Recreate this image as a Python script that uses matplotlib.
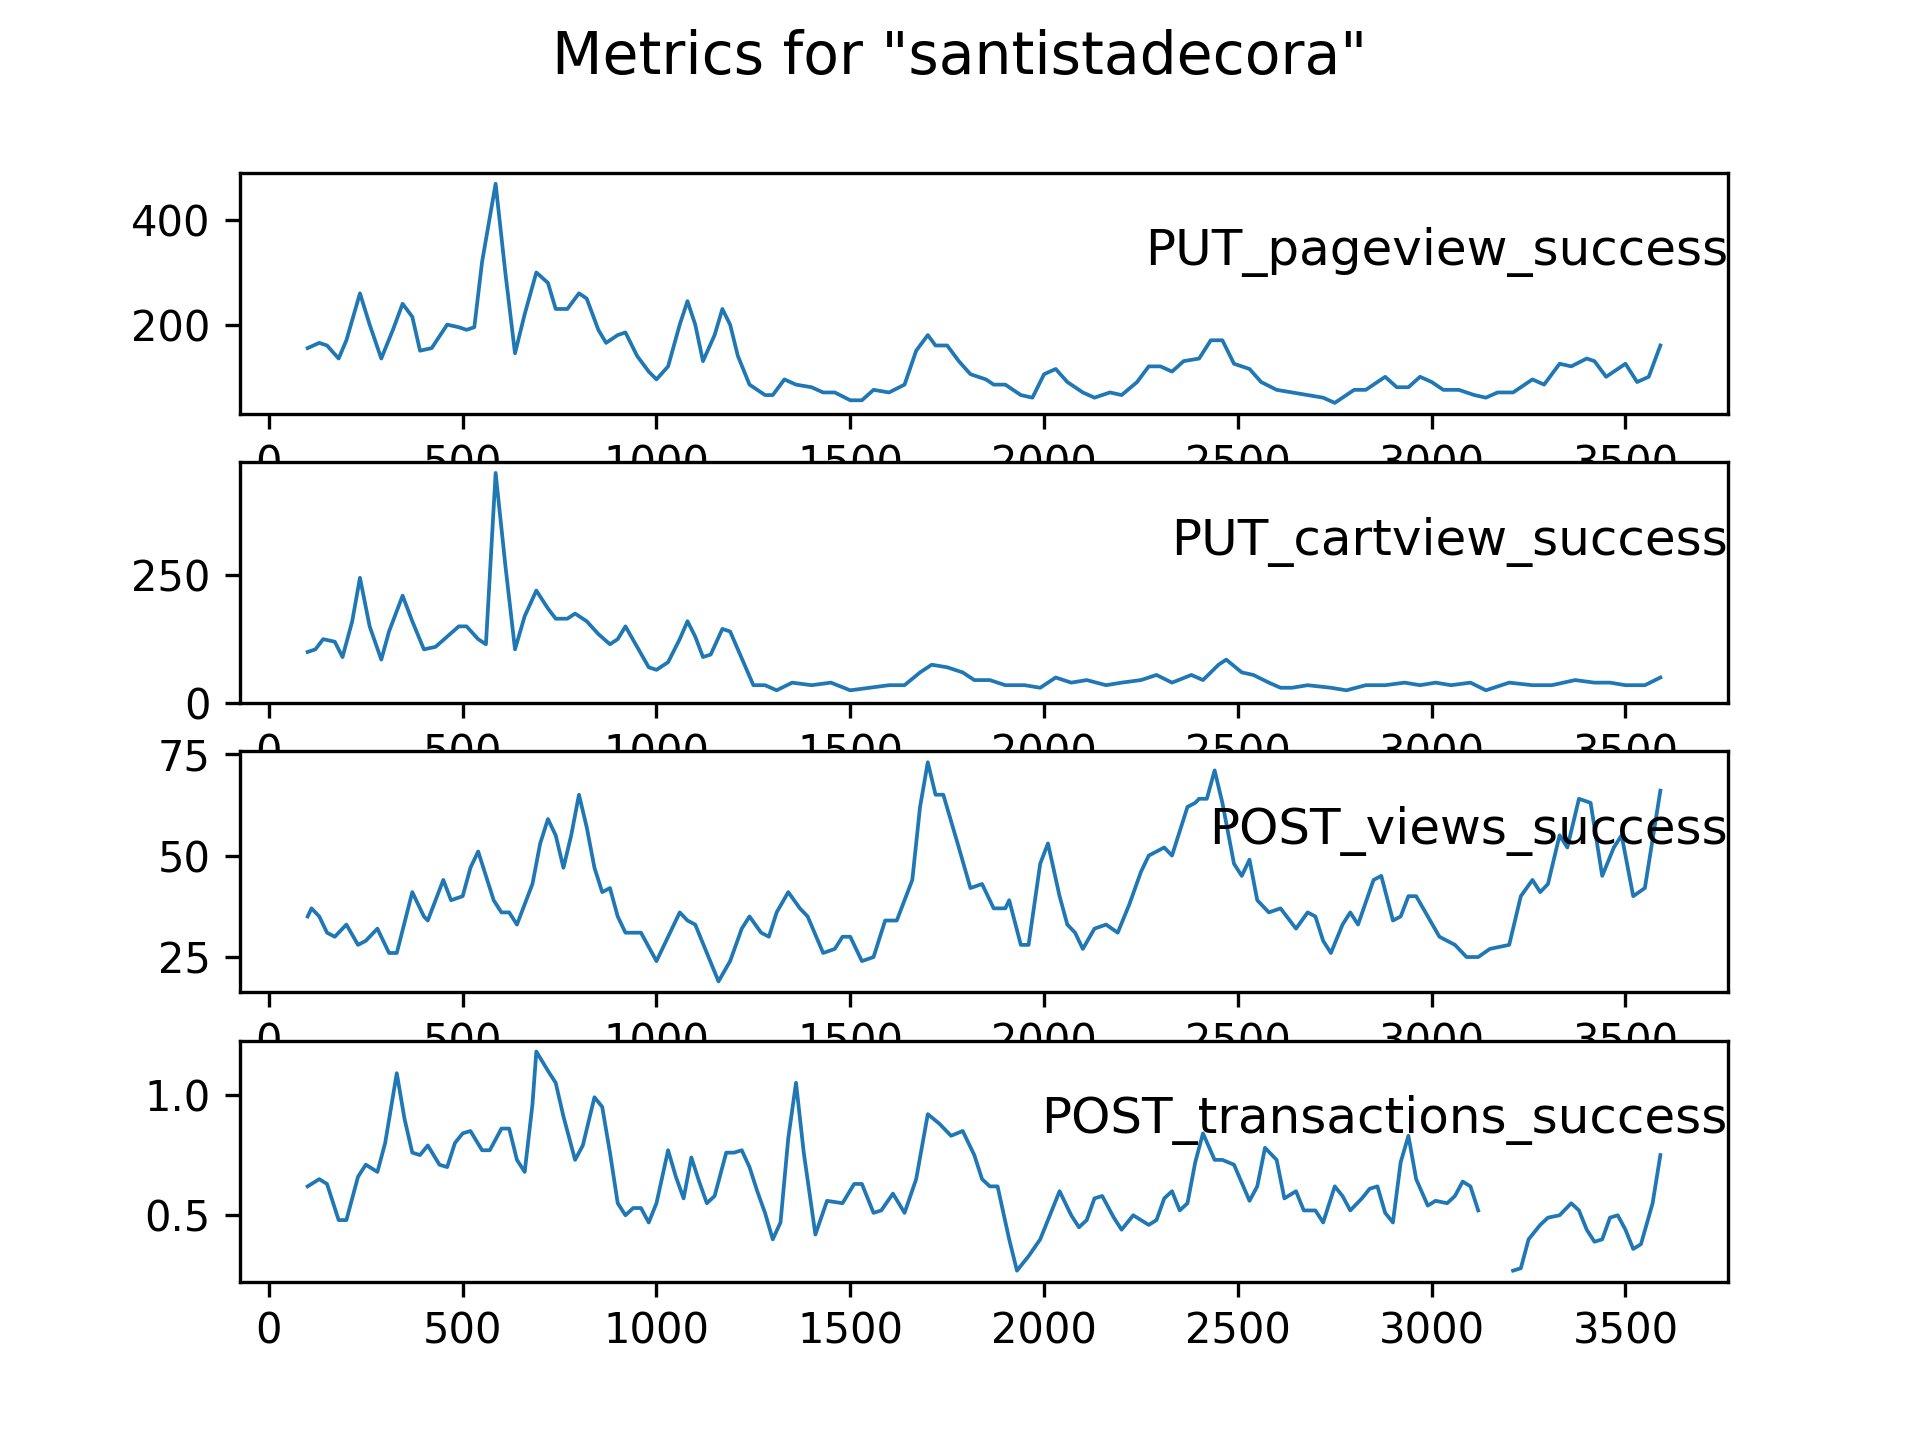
import matplotlib
matplotlib.use("Agg")
import matplotlib.pyplot as plt
import numpy as np

# ------------------------------------------------------------
# Data
# ------------------------------------------------------------

pageview_x = [100, 130, 150, 180, 200, 235, 260, 290, 320, 345, 370, 390, 420, 460, 490, 510, 530, 550, 585, 610, 635, 660, 690, 720, 740, 770, 800, 820, 850, 870, 900, 920, 950, 980, 1000, 1030, 1060, 1080, 1100, 1120, 1150, 1170, 1190, 1210, 1240, 1280, 1300, 1330, 1360, 1400, 1430, 1460, 1500, 1530, 1560, 1600, 1640, 1670, 1700, 1720, 1750, 1780, 1810, 1850, 1870, 1900, 1940, 1970, 2000, 2030, 2060, 2100, 2130, 2170, 2200, 2240, 2270, 2300, 2330, 2360, 2400, 2430, 2460, 2490, 2530, 2560, 2600, 2640, 2680, 2720, 2750, 2800, 2830, 2880, 2910, 2940, 2970, 3000, 3030, 3070, 3110, 3140, 3170, 3210, 3260, 3290, 3330, 3360, 3400, 3420, 3450, 3500, 3530, 3560, 3590]
pageview_y = [155, 165, 160, 135, 170, 260, 200, 135, 190, 240, 215, 150, 155, 200, 195, 190, 195, 320, 470, 300, 145, 220, 300, 280, 230, 230, 260, 250, 190, 165, 180, 185, 140, 110, 95, 120, 200, 245, 200, 130, 180, 230, 200, 140, 85, 65, 65, 95, 85, 80, 70, 70, 55, 55, 75, 70, 85, 150, 180, 160, 160, 130, 105, 95, 85, 85, 65, 60, 105, 115, 90, 70, 60, 70, 65, 90, 120, 120, 110, 130, 135, 170, 170, 125, 115, 90, 75, 70, 65, 60, 50, 75, 75, 100, 80, 80, 100, 90, 75, 75, 65, 60, 70, 70, 95, 85, 125, 120, 135, 130, 100, 125, 90, 100, 160]

cartview_x = [100, 120, 140, 170, 190, 215, 235, 260, 290, 310, 345, 370, 400, 430, 460, 490, 510, 540, 560, 585, 610, 635, 660, 690, 720, 740, 770, 790, 820, 850, 880, 900, 920, 950, 980, 1000, 1030, 1060, 1080, 1100, 1120, 1140, 1170, 1190, 1230, 1250, 1280, 1310, 1350, 1400, 1450, 1500, 1550, 1600, 1640, 1680, 1710, 1750, 1790, 1820, 1860, 1900, 1950, 1990, 2030, 2070, 2110, 2160, 2200, 2250, 2290, 2330, 2380, 2410, 2450, 2470, 2510, 2540, 2580, 2610, 2640, 2680, 2740, 2780, 2830, 2880, 2930, 2970, 3010, 3050, 3100, 3140, 3200, 3260, 3310, 3370, 3420, 3460, 3500, 3550, 3590]
cartview_y = [100, 105, 125, 120, 90, 160, 245, 150, 85, 140, 210, 160, 105, 110, 130, 150, 150, 125, 115, 450, 270, 105, 170, 220, 185, 165, 165, 175, 160, 135, 115, 125, 150, 110, 70, 65, 80, 125, 160, 130, 90, 95, 145, 140, 70, 35, 35, 25, 40, 35, 40, 25, 30, 35, 35, 60, 75, 70, 60, 45, 45, 35, 35, 30, 50, 40, 45, 35, 40, 45, 55, 40, 55, 45, 75, 85, 60, 55, 40, 30, 30, 35, 30, 25, 35, 35, 40, 35, 40, 35, 40, 25, 40, 35, 35, 45, 40, 40, 35, 35, 50]

views_x = [100, 110, 130, 150, 170, 200, 230, 250, 280, 310, 330, 370, 400, 410, 450, 470, 500, 520, 540, 560, 580, 600, 620, 640, 680, 700, 720, 740, 760, 780, 800, 820, 840, 860, 880, 900, 920, 960, 1000, 1040, 1060, 1080, 1100, 1130, 1160, 1190, 1220, 1240, 1270, 1290, 1310, 1340, 1370, 1390, 1430, 1460, 1480, 1500, 1530, 1560, 1590, 1620, 1660, 1680, 1700, 1720, 1740, 1780, 1810, 1840, 1870, 1900, 1910, 1940, 1960, 1990, 2010, 2040, 2060, 2080, 2100, 2130, 2160, 2190, 2220, 2250, 2270, 2290, 2310, 2330, 2350, 2370, 2390, 2400, 2420, 2440, 2460, 2490, 2510, 2530, 2550, 2580, 2610, 2650, 2680, 2700, 2720, 2740, 2770, 2790, 2810, 2850, 2870, 2900, 2920, 2940, 2960, 2990, 3020, 3060, 3090, 3120, 3150, 3200, 3230, 3260, 3280, 3300, 3330, 3350, 3380, 3410, 3440, 3470, 3490, 3520, 3550, 3590]
views_y = [35, 37, 35, 31, 30, 33, 28, 29, 32, 26, 26, 41, 35, 34, 44, 39, 40, 47, 51, 45, 39, 36, 36, 33, 43, 53, 59, 55, 47, 55, 65, 57, 47, 41, 42, 35, 31, 31, 24, 32, 36, 34, 33, 26, 19, 24, 32, 35, 31, 30, 36, 41, 37, 35, 26, 27, 30, 30, 24, 25, 34, 34, 44, 62, 73, 65, 65, 52, 42, 43, 37, 37, 39, 28, 28, 48, 53, 40, 33, 31, 27, 32, 33, 31, 38, 46, 50, 51, 52, 50, 56, 62, 63, 64, 64, 71, 63, 48, 45, 49, 39, 36, 37, 32, 36, 35, 29, 26, 33, 36, 33, 44, 45, 34, 35, 40, 40, 35, 30, 28, 25, 25, 27, 28, 40, 44, 41, 43, 55, 52, 64, 63, 45, 52, 55, 40, 42, 66]

transactions_x = [100, 130, 150, 180, 200, 230, 250, 280, 300, 330, 350, 370, 390, 410, 440, 460, 480, 500, 520, 550, 570, 600, 620, 640, 660, 680, 690, 720, 740, 760, 790, 810, 840, 860, 880, 900, 920, 940, 960, 980, 1000, 1030, 1050, 1070, 1090, 1110, 1130, 1150, 1180, 1200, 1220, 1240, 1260, 1280, 1300, 1320, 1340, 1360, 1380, 1410, 1440, 1480, 1510, 1530, 1560, 1580, 1610, 1640, 1670, 1700, 1730, 1760, 1790, 1820, 1840, 1860, 1880, 1910, 1930, 1960, 1990, 2010, 2040, 2070, 2090, 2110, 2130, 2150, 2180, 2200, 2230, 2270, 2290, 2310, 2330, 2350, 2370, 2390, 2410, 2440, 2460, 2490, 2530, 2550, 2570, 2600, 2620, 2650, 2670, 2700, 2720, 2750, 2770, 2790, 2820, 2840, 2860, 2880, 2900, 2920, 2940, 2960, 2990, 3010, 3040, 3060, 3080, 3100, 3120, 3165, 3210, 3230, 3250, 3280, 3300, 3330, 3360, 3380, 3400, 3420, 3440, 3460, 3480, 3500, 3520, 3540, 3570, 3590]
transactions_y = [0.62, 0.65, 0.63, 0.48, 0.48, 0.66, 0.71, 0.68, 0.80, 1.09, 0.90, 0.76, 0.75, 0.79, 0.71, 0.70, 0.80, 0.84, 0.85, 0.77, 0.77, 0.86, 0.86, 0.73, 0.68, 0.96, 1.18, 1.10, 1.05, 0.91, 0.73, 0.79, 0.99, 0.95, 0.76, 0.55, 0.50, 0.53, 0.53, 0.47, 0.55, 0.77, 0.66, 0.57, 0.74, 0.64, 0.55, 0.58, 0.76, 0.76, 0.77, 0.70, 0.60, 0.51, 0.40, 0.47, 0.82, 1.05, 0.76, 0.42, 0.56, 0.55, 0.63, 0.63, 0.51, 0.52, 0.59, 0.51, 0.65, 0.92, 0.88, 0.83, 0.85, 0.75, 0.65, 0.62, 0.62, 0.40, 0.27, 0.33, 0.40, 0.48, 0.60, 0.50, 0.45, 0.48, 0.57, 0.58, 0.49, 0.44, 0.50, 0.46, 0.48, 0.57, 0.60, 0.52, 0.55, 0.72, 0.84, 0.73, 0.73, 0.71, 0.56, 0.62, 0.78, 0.73, 0.57, 0.60, 0.52, 0.52, 0.47, 0.62, 0.58, 0.52, 0.57, 0.61, 0.62, 0.51, 0.47, 0.72, 0.83, 0.65, 0.54, 0.56, 0.55, 0.58, 0.64, 0.62, 0.52, np.nan, 0.27, 0.28, 0.40, 0.46, 0.49, 0.50, 0.55, 0.52, 0.44, 0.39, 0.40, 0.49, 0.50, 0.44, 0.36, 0.38, 0.55, 0.75]

METRICS = [
    ("PUT_pageview_success", pageview_x, pageview_y),
    ("PUT_cartview_success", cartview_x, cartview_y),
    ("POST_views_success", views_x, views_y),
    ("POST_transactions_success", transactions_x, transactions_y),
]


def main():
    fig, axes = plt.subplots(len(METRICS), 1, figsize=(6.4, 4.8))
    fig.suptitle('Metrics for "santistadecora"', fontsize=14)

    for ax, (name, x, y) in zip(axes, METRICS):
        ax.plot(x, y, linewidth=0.9)
        ax.text(1.0, 0.67, name, transform=ax.transAxes,
                ha="right", va="center", fontsize=12)

    axes[1].set_ylim(bottom=0)
    fig.savefig("out.png", dpi=300)


if __name__ == "__main__":
    main()
